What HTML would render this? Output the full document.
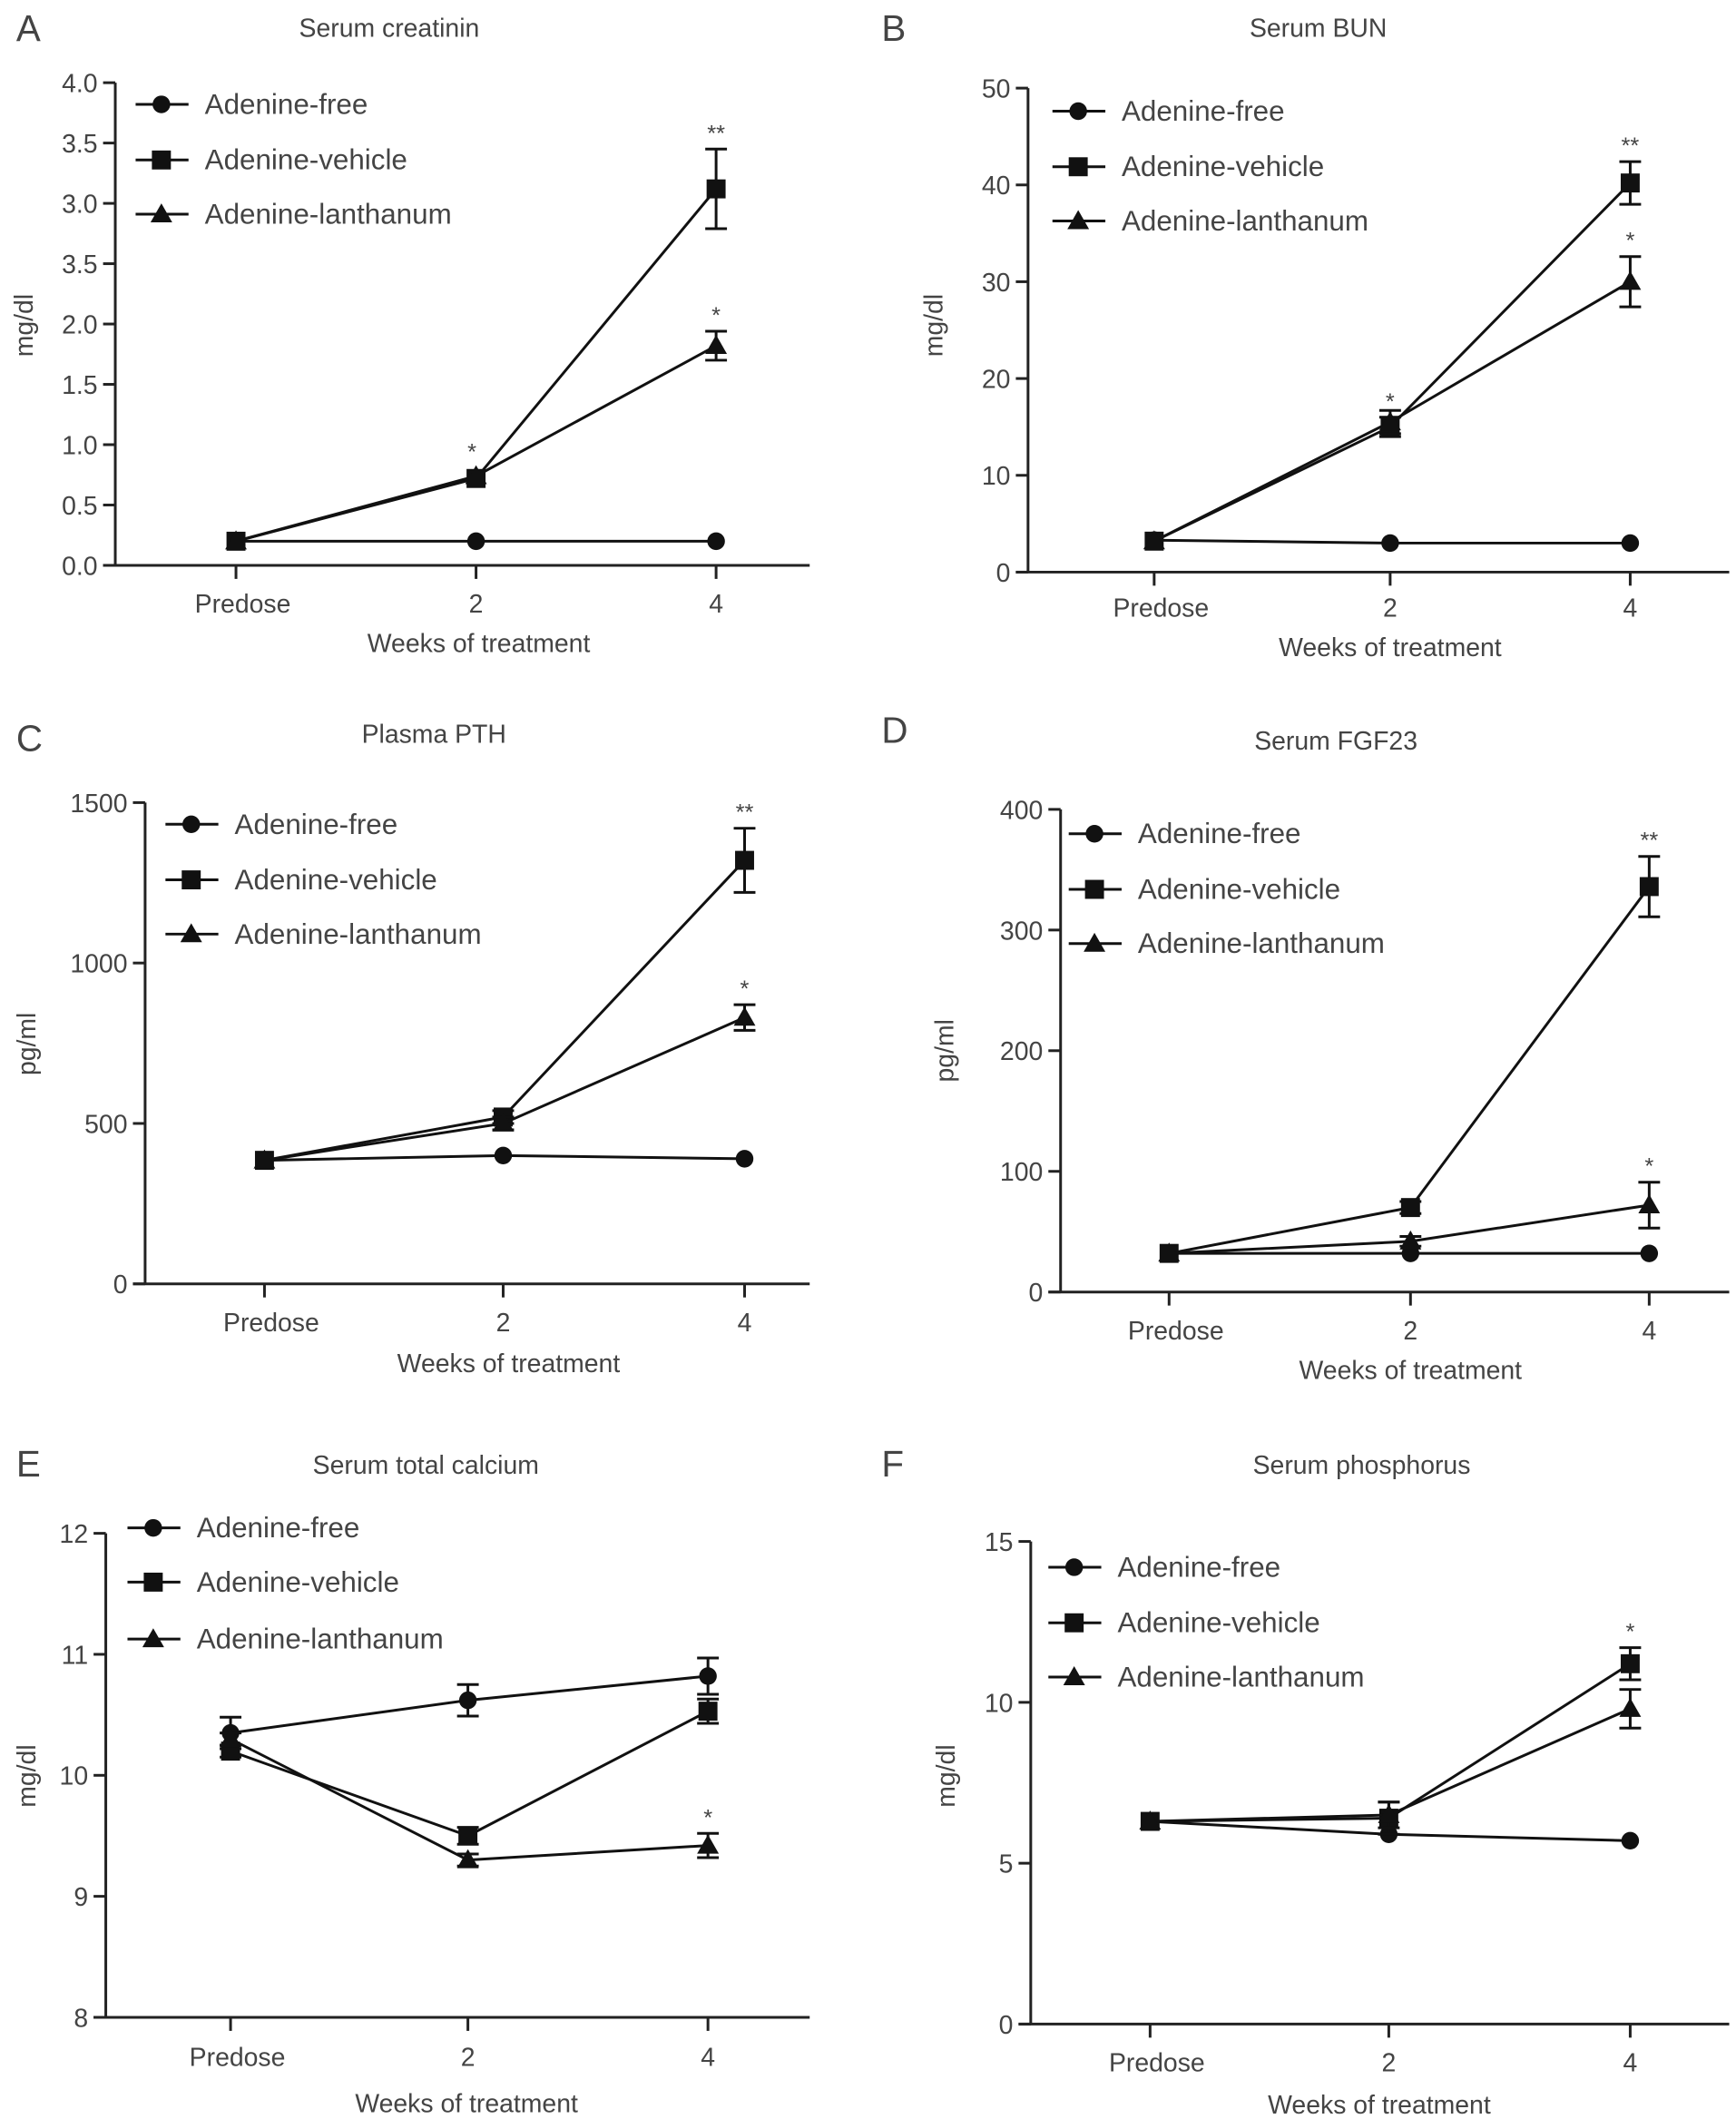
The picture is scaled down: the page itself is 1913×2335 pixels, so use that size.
<!DOCTYPE html>
<html><head><meta charset="utf-8"><style>
html,body{margin:0;padding:0;background:#fff;}
svg{display:block;}
text{font-family:"Liberation Sans",sans-serif;fill:#444;}
</style></head><body>
<svg id="fig" width="1913" height="2335" viewBox="0 0 1280 1563" preserveAspectRatio="none" xmlns="http://www.w3.org/2000/svg"></svg>
<script>
// ---- data ----
const categories = ["Predose","2","4"];
const seriesNames = ["Adenine-free","Adenine-vehicle","Adenine-lanthanum"];
const titles = ["Serum creatinin","Serum BUN","Plasma PTH","Serum FGF23","Serum total calcium","Serum phosphorus"];
const letters = ["A","B","C","D","E","F"];
const yTitles = ["mg/dl","mg/dl","pg/ml","pg/ml","mg/dl","mg/dl"];
const yTicksA = ["4.0","3.5","3.0","3.5","2.0","1.5","1.0","0.5","0.0"];
const yTickValsA = [4.0,3.5,3.0,2.5,2.0,1.5,1.0,0.5,0.0];
const yTicksB = [0,10,20,30,40,50];
const yTicksC = [0,500,1000,1500];
const yTicksD = [0,100,200,300,400];
const yTicksE = [8,9,10,11,12];
const yTicksF = [0,5,10,15];
const freeA=[0.2,0.2,0.2], vehA=[0.2,0.72,3.12], lanA=[0.2,0.74,1.82];
const vehErrA=[0,0,0.33], lanErrA=[0,0,0.12];
const freeB=[3.3,3.0,3.0], vehB=[3.2,15,40.2], lanB=[3.2,15.5,30];
const vehErrB=[0,1,2.2], lanErrB=[0,1.2,2.6];
const freeC=[385,400,390], vehC=[385,520,1320], lanC=[385,500,830];
const vehErrC=[0,20,100], lanErrC=[0,20,40];
const freeD=[32,32,32], vehD=[32,70,336], lanD=[32,42,72];
const vehErrD=[0,5,25], lanErrD=[0,4,19];
const freeE=[10.35,10.62,10.82], vehE=[10.2,9.5,10.53], lanE=[10.3,9.3,9.42];
const freeErrE=[0.13,0.13,0.15], vehErrE=[0.05,0.07,0.1], lanErrE=[0.05,0.05,0.1];
const freeF=[6.3,5.9,5.7], vehF=[6.3,6.4,11.2], lanF=[6.3,6.5,9.8];
const vehErrF=[0,0.5,0.5], lanErrF=[0,0.4,0.6];
const starsA=[["","",""],["","*","**"],["","","*"]];
const starsB=[["","",""],["","*","**"],["","","*"]];
const starsC=[["","",""],["","","**"],["","","*"]];
const starsD=[["","",""],["","","**"],["","","*"]];
const starsE=[["","",""],["","",""],["","","*"]];
const starsF=[["","",""],["","","*"],["","",""]];

const NS="http://www.w3.org/2000/svg";
const svg=document.getElementById('fig');
function el(tag,attrs,parent,txt){const e=document.createElementNS(NS,tag);for(const k in attrs)e.setAttribute(k,attrs[k]);if(txt!==undefined)e.textContent=txt;(parent||svg).appendChild(e);return e;}

const layouts=[
 {ax:85,top:61,bot:417,ymin:0,ymax:4,xs:[174,351,528],xend:597,lx:100,ly:[77,118,158],tx:287,ty:27,Lx:12,Ly:30,xly:452,xty:481,xtx:353,ytx:24,yty:240,ticks:yTickValsA,tickLabels:yTicksA,d:[freeA,vehA,lanA],e:[null,vehErrA,lanErrA],s:starsA},
 {ax:758,top:65,bot:422,ymin:0,ymax:50,xs:[851,1025,1202],xend:1275,lx:776,ly:[82,123,163],tx:972,ty:27,Lx:650,Ly:30,xly:455,xty:484,xtx:1025,ytx:695,yty:240,ticks:yTicksB,tickLabels:yTicksB,d:[freeB,vehB,lanB],e:[null,vehErrB,lanErrB],s:starsB},
 {ax:107,top:592,bot:947,ymin:0,ymax:1500,xs:[195,371,549],xend:597,lx:122,ly:[608,649,689],tx:320,ty:548,Lx:12,Ly:554,xly:982,xty:1012,xtx:375,ytx:26,yty:770,ticks:yTicksC,tickLabels:yTicksC,d:[freeC,vehC,lanC],e:[null,vehErrC,lanErrC],s:starsC},
 {ax:782,top:597,bot:953,ymin:0,ymax:400,xs:[862,1040,1216],xend:1275,lx:788,ly:[615,656,696],tx:985,ty:553,Lx:650,Ly:548,xly:988,xty:1017,xtx:1040,ytx:703,yty:775,ticks:yTicksD,tickLabels:yTicksD,d:[freeD,vehD,lanD],e:[null,vehErrD,lanErrD],s:starsD},
 {ax:78,top:1131,bot:1488,ymin:8,ymax:12,xs:[170,345,522],xend:597,lx:94,ly:[1127,1167,1209],tx:314,ty:1087,Lx:12,Ly:1089,xly:1524,xty:1558,xtx:344,ytx:26,yty:1310,ticks:yTicksE,tickLabels:yTicksE,d:[freeE,vehE,lanE],e:[freeErrE,vehErrE,lanErrE],s:starsE},
 {ax:760,top:1137,bot:1493,ymin:0,ymax:15,xs:[848,1024,1202],xend:1275,lx:773,ly:[1156,1197,1237],tx:1004,ty:1087,Lx:650,Ly:1089,xly:1528,xty:1559,xtx:1017,ytx:704,yty:1310,ticks:yTicksF,tickLabels:yTicksF,d:[freeF,vehF,lanF],e:[null,vehErrF,lanErrF],s:starsF}
];

function marker(i,x,y,g){
  if(i===0){const m=el('circle',{cx:x,cy:y,r:6.5,fill:'#111'},g);}
  else if(i===1){const m=el('rect',{x:x-7,y:y-7,width:14,height:14,fill:'#111'},g);}
  else {const m=el('polygon',{points:`${x},${y-8} ${x+8},${y+6} ${x-8},${y+6}`,fill:'#111'},g);}
}

layouts.forEach((L,p)=>{
  const g=el('g',{});
  
  
  const y=v=>L.bot-(v-L.ymin)/(L.ymax-L.ymin)*(L.bot-L.top);
  const lt=el('text',{x:L.Lx,y:L.Ly,'font-size':27,fill:'#333'},g,letters[p]);
  
  
  const t=el('text',{x:L.tx,y:L.ty,'font-size':19,'text-anchor':'middle'},g,titles[p]);
  
  
  const ya=el('line',{x1:L.ax,y1:L.top,x2:L.ax,y2:L.bot,stroke:'#222','stroke-width':2},g);
  
  
  const xa=el('line',{x1:L.ax-9,y1:L.bot,x2:L.xend,y2:L.bot,stroke:'#222','stroke-width':2},g);
  
  
  L.ticks.forEach((v,i)=>{
    const yy=y(v);
    el('line',{x1:L.ax-9,y1:yy,x2:L.ax,y2:yy,stroke:'#222','stroke-width':2},g);
    const tl=el('text',{x:L.ax-13,y:yy+7,'font-size':19,'text-anchor':'end'},g,L.tickLabels[i]);
    
    
  });
  categories.forEach((c,i)=>{
    el('line',{x1:L.xs[i],y1:L.bot,x2:L.xs[i],y2:L.bot+10,stroke:'#222','stroke-width':2},g);
    const xl=el('text',{x:L.xs[i]+(i===0?5:0),y:L.xly,'font-size':19,'text-anchor':'middle'},g,c);
    
    
  });
  const xt=el('text',{x:L.xtx,y:L.xty,'font-size':19,'text-anchor':'middle'},g,'Weeks of treatment');
  
  
  const yt=el('text',{x:L.ytx,y:L.yty,'font-size':19,'text-anchor':'middle',transform:`rotate(-90 ${L.ytx} ${L.yty})`},g,yTitles[p]);
  
  
  L.d.forEach((vals,si)=>{
    const sg=el('g',{},g);
    
    
    const pts=vals.map((v,i)=>L.xs[i]+','+y(v)).join(' ');
    el('polyline',{points:pts,fill:'none',stroke:'#111','stroke-width':2},sg);
    vals.forEach((v,i)=>{
      const err=L.e[si]?L.e[si][i]:0;
      if(err>0){
        const a=y(v+err),b=y(v-err);
        el('line',{x1:L.xs[i],y1:a,x2:L.xs[i],y2:b,stroke:'#111','stroke-width':2},sg);
        el('line',{x1:L.xs[i]-8,y1:a,x2:L.xs[i]+8,y2:a,stroke:'#111','stroke-width':2},sg);
        el('line',{x1:L.xs[i]-8,y1:b,x2:L.xs[i]+8,y2:b,stroke:'#111','stroke-width':2},sg);
      }
      const st=L.s[si][i];
      if(st){
        const sy=err>0?y(v+err)-6:y(v)-14;
        const s=el('text',{x:L.xs[i]-(err>0?0:3),y:sy,'font-size':17,'text-anchor':'middle'},sg,st);
        
        
      }
    });
    vals.forEach((v,i)=>marker(si,L.xs[i],y(v),sg));
  });
  seriesNames.forEach((n,si)=>{
    const lg=el('g',{},g);
    
    
    const ly=L.ly[si];
    el('line',{x1:L.lx,y1:ly,x2:L.lx+39,y2:ly,stroke:'#111','stroke-width':2},lg);
    marker(si,L.lx+19,ly,lg);
    el('text',{x:L.lx+51,y:ly+7,'font-size':21},lg,n);
  });
});
</script>
</body></html>
